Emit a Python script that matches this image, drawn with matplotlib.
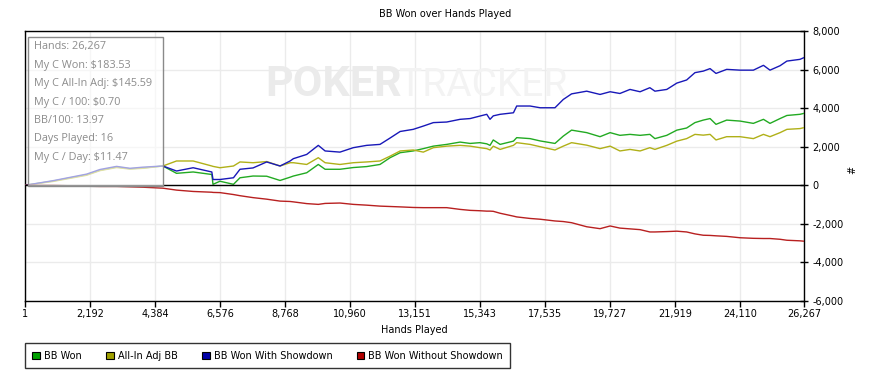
''' BB won over hands played, PokerTracker style graph. '''

import matplotlib
matplotlib.use('Agg')
import matplotlib.pyplot as plt
from matplotlib.patches import Patch, Rectangle

# hands sampled along the session
hands = [1, 950, 2080, 2530, 3090, 3540, 3980, 4650, 5110, 5670,
         6300, 6340, 6575, 7030, 7250, 7690, 8150, 8600, 8940, 9050,
         9500, 9890, 10120, 10620, 11070, 11520, 11970, 12310, 12650, 13090,
         13430, 13770, 14220, 14670, 15010, 15340, 15570, 15680, 15790, 16020,
         16470, 16580, 17030, 17370, 17870, 18150, 18430, 18940, 19390, 19730,
         20060, 20400, 20740, 21070, 21240, 21640, 21980, 22310, 22590, 22870,
         23100, 23300, 23660, 24110, 24560, 24900, 25120, 25460, 25690, 26130,
         26267]

bb_won = [0, 220, 550, 780, 950, 860, 900, 1000, 620, 690,
          560, 50, 210, 50, 390, 480, 470, 250, 420, 480,
          650, 1080, 830, 830, 920, 970, 1080, 1430, 1690, 1780,
          1900, 2030, 2120, 2240, 2170, 2210, 2150, 2070, 2350, 2120,
          2290, 2470, 2420, 2300, 2170, 2550, 2860, 2730, 2520, 2730,
          2590, 2640, 2590, 2640, 2420, 2590, 2860, 2970, 3250, 3380,
          3460, 3160, 3380, 3330, 3210, 3420, 3210, 3460, 3620, 3680,
          3730]

allin_adj = [0, 200, 520, 760, 920, 840, 880, 1000, 1260, 1260,
             1000, 980, 910, 1000, 1210, 1170, 1230, 1000, 1170, 1170,
             1080, 1430, 1170, 1080, 1170, 1210, 1260, 1510, 1780, 1830,
             1720, 1950, 2030, 2070, 2030, 1950, 1900, 1830, 2030, 1860,
             2070, 2210, 2120, 2000, 1830, 2030, 2210, 2080, 1900, 2030,
             1780, 1860, 1780, 1950, 1860, 2070, 2290, 2420, 2640, 2600,
             2640, 2350, 2520, 2520, 2420, 2640, 2520, 2730, 2900, 2940,
             2990]

with_sd = [0, 240, 580, 820, 980, 880, 940, 1000, 740, 910,
           690, 300, 300, 390, 830, 900, 1210, 1000, 1260, 1380,
           1600, 2070, 1780, 1720, 1950, 2070, 2120, 2450, 2790, 2900,
           3070, 3250, 3280, 3420, 3460, 3590, 3680, 3420, 3600, 3680,
           3760, 4110, 4110, 4020, 4020, 4450, 4740, 4880, 4710, 4850,
           4760, 4970, 4850, 5060, 4880, 4970, 5300, 5460, 5840, 5920,
           6050, 5800, 6010, 5970, 5970, 6220, 5970, 6200, 6440, 6530,
           6620]

without_sd = [0, 0, -50, -60, -60, -80, -100, -150, -250, -320,
              -360, -370, -380, -480, -540, -640, -720, -820, -840, -860,
              -950, -990, -940, -920, -990, -1030, -1080, -1100, -1120, -1150,
              -1160, -1160, -1160, -1250, -1300, -1320, -1340, -1340, -1350, -1450,
              -1600, -1640, -1720, -1760, -1850, -1880, -1940, -2150, -2250, -2110,
              -2220, -2260, -2300, -2420, -2420, -2400, -2380, -2420, -2520, -2590,
              -2600, -2620, -2650, -2720, -2750, -2760, -2760, -2800, -2850, -2880,
              -2900]

x_ticks = [1, 2192, 4384, 6576, 8768, 10960, 13151, 15343, 17535, 19727, 21919, 24110, 26267]
y_ticks = [-6000, -4000, -2000, 0, 2000, 4000, 6000, 8000]

stats = ["Hands: 26,267", "My C Won: $183.53", "My C All-In Adj: $145.59",
         "My C / 100: $0.70", "BB/100: 13.97", "Days Played: 16", "My C / Day: $11.47"]

series = [("BB Won", bb_won, '#22aa22', '#00a000'),
          ("All-In Adj BB", allin_adj, '#b0b018', '#a0a000'),
          ("BB Won With Showdown", with_sd, '#1818b8', '#0000a8'),
          ("BB Won Without Showdown", without_sd, '#b82020', '#b00000')]

W, H = 890, 378
fig = plt.figure(figsize=(W / 100, H / 100), dpi=100)
ax = fig.add_axes([25 / W, 1 - 301 / H, (804 - 25) / W, (301 - 31) / H])

# watermark
ax.text(265 / W, 1 - 96 / H, "POKER", transform=fig.transFigure, family='Roboto',
        weight='bold', fontsize=31, color='#ebebeb', zorder=1.5, va='baseline')
ax.text(399 / W, 1 - 96 / H, "TRACKER", transform=fig.transFigure, family='Roboto',
        fontsize=28, color='#f3f3f3', zorder=1.5, va='baseline')

for name, vals, col, _ in series:
    ax.plot(hands, vals, color=col, lw=1.0, zorder=3)

ax.axhline(0, color='black', lw=1.0, zorder=4)
ax.set_xlim(1, 26267)
ax.set_ylim(-6000, 8000)
ax.set_xticks(x_ticks)
ax.set_xticklabels(["{:,}".format(t) for t in x_ticks])
ax.set_yticks(y_ticks)
ax.set_yticklabels(["{:,}".format(t) for t in y_ticks])
ax.yaxis.tick_right()
ax.grid(True, color='#ebebeb', lw=1.0, zorder=1)
ax.set_axisbelow(True)
ax.tick_params(axis='x', direction='out', length=4, width=1, labelsize=7, pad=2)
ax.tick_params(axis='y', direction='inout', length=6, width=1, labelsize=7, pad=3)
for s in ax.spines.values():
    s.set_color('black')
    s.set_linewidth(1.0)

fig.text(445 / W, 1 - 14 / H, "BB Won over Hands Played", ha='center', va='center', fontsize=7)
fig.text(414 / W, 1 - 330 / H, "Hands Played", ha='center', va='center', fontsize=7)
fig.text(852 / W, 1 - 170 / H, "#", ha='center', va='center', fontsize=7, rotation=90)

# stats box
ax.add_patch(Rectangle((28 / W, 1 - 186 / H), 135 / W, 149 / H, transform=fig.transFigure,
                       facecolor='white', alpha=0.6, edgecolor='none', zorder=5))
ax.add_patch(Rectangle((28 / W, 1 - 186 / H), 135 / W, 149 / H, transform=fig.transFigure,
                       facecolor='none', edgecolor='#8a8a8a', lw=1.0, zorder=6))
for i, line in enumerate(stats):
    ax.text(34 / W, 1 - (47 + i * 18.4) / H, line, transform=fig.transFigure,
            family='Open Sans', fontsize=7.8, color='#8c8c8c', va='center', zorder=7)

handles = [Patch(facecolor=fc, edgecolor='black', lw=0.8, label=name) for name, _, _, fc in series]
leg = fig.legend(handles=handles, loc='lower left', bbox_to_anchor=(25 / W, 1 - 368 / H),
                 ncol=4, fontsize=7, frameon=True, fancybox=False, borderaxespad=0,
                 handlelength=0.8, handleheight=0.8, handletextpad=0.4, columnspacing=2.5,
                 borderpad=0.75)
leg.get_frame().set_edgecolor('black')
leg.get_frame().set_linewidth(1.0)

fig.savefig('out.png', dpi=100)
